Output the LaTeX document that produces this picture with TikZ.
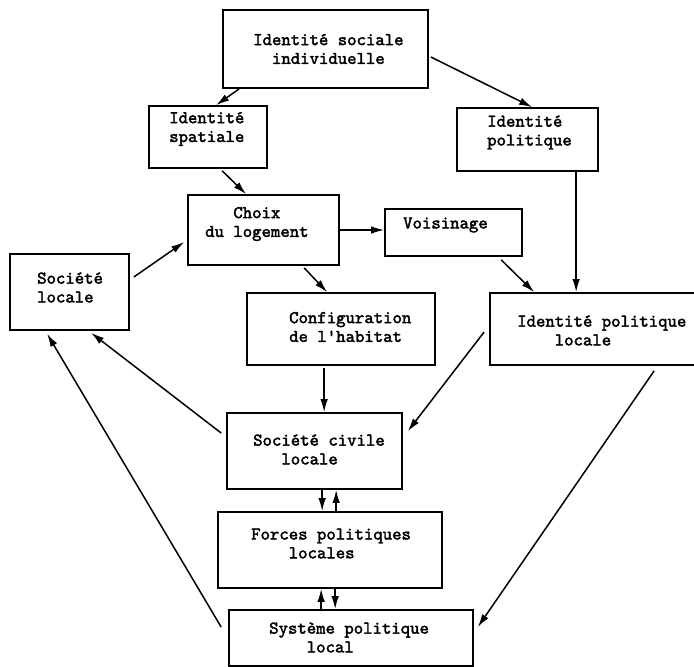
\documentclass[tikz,border=0pt]{standalone}
\usepackage{fontspec}
\newfontfamily\typew{lmmono10-regular.otf}[AutoFakeBold=2.2]
\usetikzlibrary{calc,arrows.meta}
\newcommand\indc[1]{\hspace*{#1\fontcharwd\font`\x}}
\begin{document}
\begin{tikzpicture}[x=1pt,y=-1pt,
  box/.style={draw,line width=1.7pt,rectangle,inner sep=0pt},
  txt/.style={inner sep=0pt,align=left,anchor=west,font=\typew\bfseries\fontsize{17.9}{18.8}\selectfont},
  arr/.style={line width=1.5pt,-{Latex[length=13pt,width=7.5pt]}}]
\useasboundingbox (0,0) rectangle (694,667);
% boxes
\node[box,minimum width=205pt,minimum height=78pt] (b1) at (325.5,49) {};
\node[box,minimum width=118pt,minimum height=62pt] (b2) at (208,137) {};
\node[box,minimum width=141pt,minimum height=63pt] (b3) at (527.5,139.5) {};
\node[box,minimum width=151pt,minimum height=70pt] (b4) at (263.5,230) {};
\node[box,minimum width=119pt,minimum height=76pt] (b5) at (69.5,292) {};
\node[box,minimum width=188pt,minimum height=72pt] (b6) at (341,329) {};
\node[box,minimum width=137pt,minimum height=47pt] (b7) at (453.5,232.5) {};
\node[box,minimum width=208pt,minimum height=72pt] (b8) at (594,329) {};
\node[box,minimum width=175pt,minimum height=76pt] (b9) at (314.5,451) {};
\node[box,minimum width=224pt,minimum height=76pt] (b10) at (330,550) {};
\node[box,minimum width=244pt,minimum height=56pt] (b11) at (351,638) {};
% texts
\node[txt] (t1) at (253,49) {Identité sociale\\\indc{2}individuelle};
\node[txt] (t2) at (169,129) {Identité\\spatiale};
\node[txt] (t3) at (487,132.5) {Identité\\politique};
\node[txt] (t4) at (205,224) {\indc{3}Choix\\du logement};
\node[txt] (t5) at (37,287.5) {Société\\locale};
\node[txt] (t6) at (289,327) {Configuration\\de l\textquotesingle habitat};
\node[txt] (t7) at (403,225) {Voisinage};
\node[txt] (t8) at (517,330.5) {Identité politique\\\indc{4}locale};
\node[txt] (t9) at (253,449.5) {Société civile\\\indc{3}locale};
\node[txt] (t10) at (251,543.5) {Forces politiques\\\indc{4}locales};
\node[txt] (t11) at (269,637.5) {Système politique\\\indc{4}local};
% connectors
\draw[arr] ($(b1.south west)+(17,0)$) -- ($(b2.north west)+(68,0)$);
\draw[arr] ($(b1.east)+(2,8)$) -- ($(b3.north west)+(76,0)$);
\draw[arr] ($(b2.south west)+(74,2)$) -- ($(b4.north west)+(59,0)$);
\draw[arr] (b4.east) -- (b7.west |- b4.east);
\draw[arr] ($(b4.south west)+(117,2)$) -- ($(b6.north west)+(81,0)$);
\draw[arr] ($(b5.east)+(4,-15)$) -- ($(b4.west)+(-3,12)$);
\draw[arr] ($(b7.south west)+(117,3)$) -- ($(b8.north west)+(45,0)$);
\draw[arr] ($(b3.south west)+(120,0)$) -- ($(b8.north west)+(87,0)$);
\draw[arr] ($(b6.south west)+(78,2)$) -- ($(b9.north west)+(98,0)$);
\draw[arr] ($(b8.west)+(-5,3)$) -- ($(b9.north east)+(5,19)$);
\draw[arr] ($(b9.west)+(-5,-18)$) -- ($(b5.south west)+(82,2)$);
\draw[arr] ($(b11.west)+(-7,-11)$) -- ($(b5.south west)+(38,3)$);
\draw[arr] ($(b8.south west)+(165,5)$) -- ($(b11.east)+(4,-11)$);
\draw[arr] ($(b9.south west)+(96,0)$) -- ($(b10.north west)+(105,0)$);
\draw[arr] ($(b10.north west)+(119,0)$) -- ($(b9.south west)+(110,0)$);
\draw[arr] ($(b11.north west)+(93,0)$) -- ($(b10.south west)+(104,0)$);
\draw[arr] ($(b10.south west)+(118,0)$) -- ($(b11.north west)+(107,0)$);
\end{tikzpicture}
\end{document}
